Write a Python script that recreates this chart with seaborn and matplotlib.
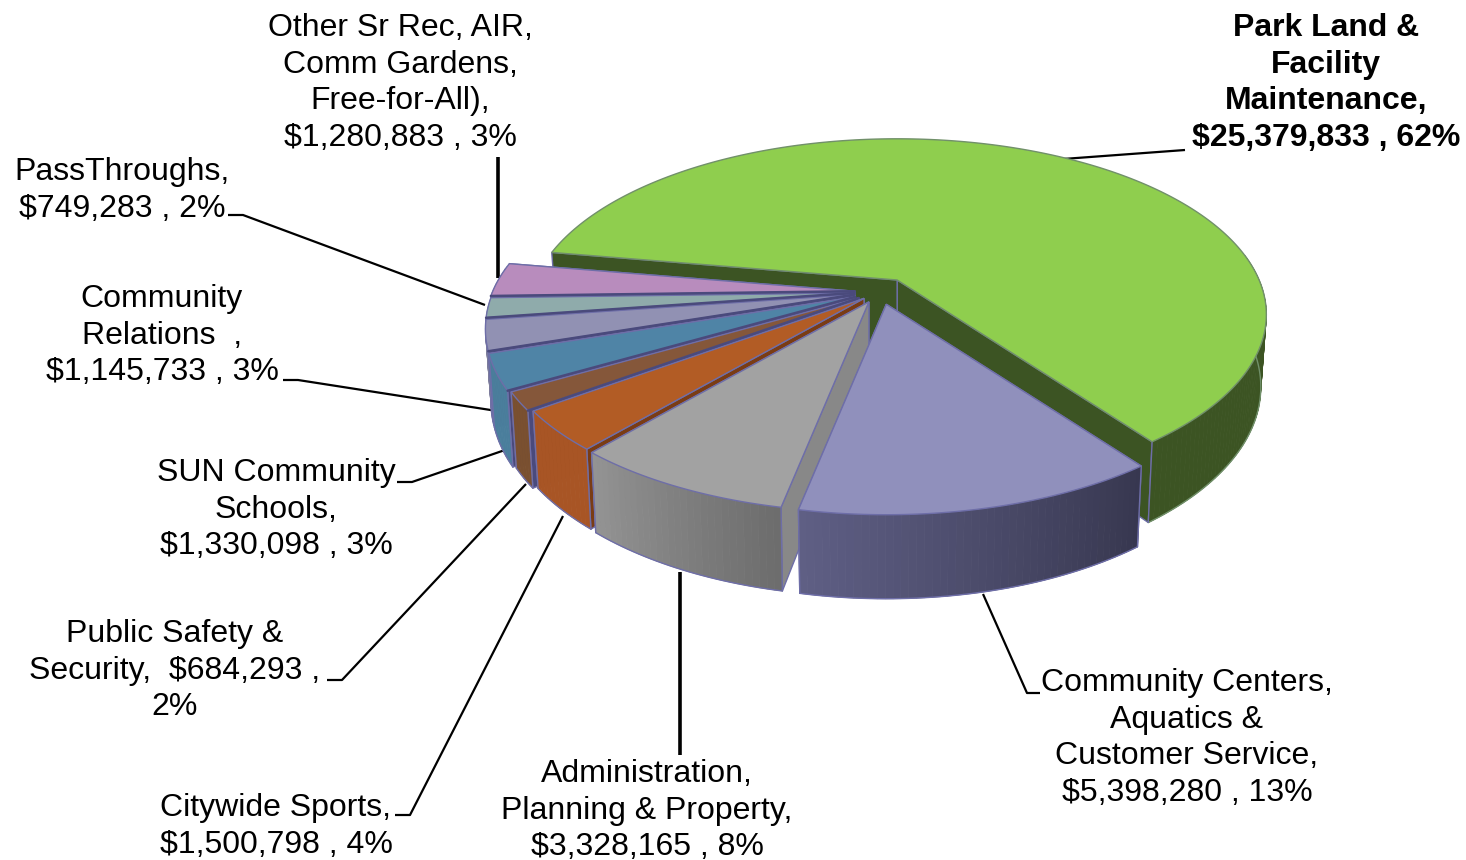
import numpy as np
import matplotlib
matplotlib.use("Agg")
import matplotlib.pyplot as plt
import seaborn as sns

# budget by program, clockwise from the park slice
values = [25379833, 5398280, 3328165, 1500798, 684293, 1330098, 1145733, 749283, 1280883]
label_lines = [
    ["Park Land &", "Facility", "Maintenance,", "{v} , {p}%"],
    ["Community Centers,", "Aquatics &", "Customer Service,", "{v} , {p}%"],
    ["Administration,", "Planning & Property,", "{v} , {p}%"],
    ["Citywide Sports,", "{v} , {p}%"],
    ["Public Safety &", "Security,  {v} ,", "{p}%"],
    ["SUN Community", "Schools,", "{v} , {p}%"],
    ["Community", "Relations  ,", "{v} , {p}%"],
    ["PassThroughs,", "{v} , {p}%"],
    ["Other Sr Rec, AIR,", "Comm Gardens,", "Free-for-All),", "{v} , {p}%"],
]
label_x = [1326, 1187, 647, 276, 175, 276, 162, 122, 400]
label_y = [28, 683, 774, 808, 634, 473, 299, 172, 28]

top_colors = ["#8fce4e", "#9090bc", "#a2a2a2", "#b25c25", "#85573a", "#4f84a6", "#9191b3", "#8fabab", "#b88cbd"]
wall_right = ["#3c5423", "#37374f", "#6c6c6c", "#a85525", "#7a5030", "#4a7e9c", "#7c7c9c", "#7c9696", "#9c74a0"]
wall_left = ["#3c5423", "#5f5f85", "#949494", "#a85525", "#7a5030", "#4a7e9c", "#7c7c9c", "#7c9696", "#9c74a0"]
face_colors = ["#3c5423", "#5f5f85", "#888888", "#7a3c14", "#4a4a7c", "#4a4a7c", "#4a4a7c", "#4a4a7c", "#4a4a7c"]
explode = [0.09, 0.08, 0.07, 0.06, 0.07, 0.075, 0.072, 0.07, 0.07]
draw_order = [0, 8, 7, 6, 5, 4, 3, 2, 1]

# pie geometry in figure pixels
CX, CY = 880, 292
R, A, K = 362, 169, 0.197
EXPLODE_Y = 157
DEPTH = 70
START = 170.3
WALL_LIMIT = 0.15

sns.set_theme(style="white")
plt.rcParams["font.family"] = ["Liberation Sans", "DejaVu Sans"]

fig, ax = plt.subplots(figsize=(14.66, 8.6), dpi=100)
fig.subplots_adjust(left=0, right=1, top=1, bottom=0)
ax.set_xlim(0, 1466)
ax.set_ylim(860, 0)
ax.axis("off")


def rim(t, ox, oy, bottom=False):
    # perspective projection of a rim point, t in degrees
    u = np.cos(np.radians(t))
    v = -np.sin(np.radians(t))
    den = 1 - K * v
    x, y = R * u / den, A * v / den
    if bottom:
        return ox + x * 0.985, oy + y * 0.985 + DEPTH / den
    return ox + x, oy + y


def mix(c1, c2, f):
    a, b = np.array(matplotlib.colors.to_rgb(c1)), np.array(matplotlib.colors.to_rgb(c2))
    return tuple(a + (b - a) * f)


# leader lines sit under the pie
lw_thin, lw_thick = 1.6, 2.6
leaders = [
    ([1063, 1185], [159, 150], lw_thin),
    ([498, 498], [157, 278], lw_thick),
    ([228, 243, 485], [215, 215, 305], lw_thin),
    ([283, 298, 497], [380, 380, 411], lw_thin),
    ([397, 412, 505], [482, 482, 450], lw_thin),
    ([327, 342, 526], [680, 680, 484], lw_thin),
    ([395, 410, 563], [815, 815, 516], lw_thin),
    ([680, 680], [572, 755], lw_thick),
    ([983, 1027, 1040], [594, 693, 693], lw_thin),
]
for xs, ys, lw in leaders:
    ax.plot(xs, ys, color="black", lw=lw, solid_capstyle="butt", zorder=0.5)

total = sum(values)
sweeps = [v / total * 360 for v in values]
ends = START - np.cumsum(sweeps)
starts = np.concatenate([[START], ends[:-1]])

EDGE = "#6e6ea8"
DARK_EDGE = "#4a4a7c"
z = 1
for i in draw_order:
    t1, t2 = starts[i], ends[i]
    mid = np.radians((t1 + t2) / 2)
    ox = CX + explode[i] * R * np.cos(mid)
    oy = CY - explode[i] * EXPLODE_Y * np.sin(mid)
    edge = "#71906a" if i == 0 else EDGE

    # cut faces
    for t in (t2, t1):
        pts = [(ox, oy), rim(t, ox, oy), rim(t, ox, oy, True), (ox, oy + DEPTH)]
        ax.fill(*zip(*pts), facecolor=face_colors[i], edgecolor=EDGE, lw=1.0, zorder=z)
    z += 1

    # outer wall, only the part that faces the viewer
    ts = np.linspace(t1, t2, max(int(t1 - t2), 2) + 1)
    for j in range(len(ts) - 1):
        a, b = ts[j], ts[j + 1]
        if np.sin(np.radians((a + b) / 2)) > WALL_LIMIT:
            continue
        # colour runs from the right end of the wall to the left
        col = mix(wall_right[i], wall_left[i], (j + 0.5) / (len(ts) - 1))
        pts = [rim(a, ox, oy), rim(b, ox, oy), rim(b, ox, oy, True), rim(a, ox, oy, True)]
        ax.fill(*zip(*pts), color=col, lw=0.6, zorder=z)
    z += 1

    # wall outline
    vis = [t for t in ts if np.sin(np.radians(t)) <= WALL_LIMIT]
    if vis:
        bx, by = zip(*[rim(t, ox, oy, True) for t in vis])
        ax.plot(bx, by, color=edge, lw=1.0, zorder=z)
        ends_to_mark = [vis[-1]] if i == 0 else [vis[0], vis[-1]]
        for t in ends_to_mark:
            p, q = rim(t, ox, oy), rim(t, ox, oy, True)
            ax.plot([p[0], q[0]], [p[1], q[1]], color=EDGE, lw=1.0, zorder=z)
    z += 1

    # top surface
    tx, ty = zip(*[rim(t, ox, oy) for t in ts])
    ax.fill([ox] + list(tx), [oy] + list(ty), facecolor=top_colors[i], edgecolor=edge, lw=1.0, zorder=z)
    z += 1

    # dark seam between the narrow slices
    if i >= 4:
        p = rim(t1, ox, oy)
        ax.plot([ox, p[0]], [oy, p[1]], color=DARK_EDGE, lw=1.8, zorder=50)

# labels, one text per line so the spacing follows the chart
LINE = 36.6
for i, lines in enumerate(label_lines):
    pct = round(values[i] / total * 100)
    money = f"${values[i]:,}"
    for n, line in enumerate(lines):
        ax.text(label_x[i], label_y[i] + n * LINE, line.format(v=money, p=pct),
                ha="center", va="center", fontsize=23.0, color="black",
                fontweight="bold" if i == 0 else "normal", zorder=60)

fig.savefig("out.png", dpi=100)
